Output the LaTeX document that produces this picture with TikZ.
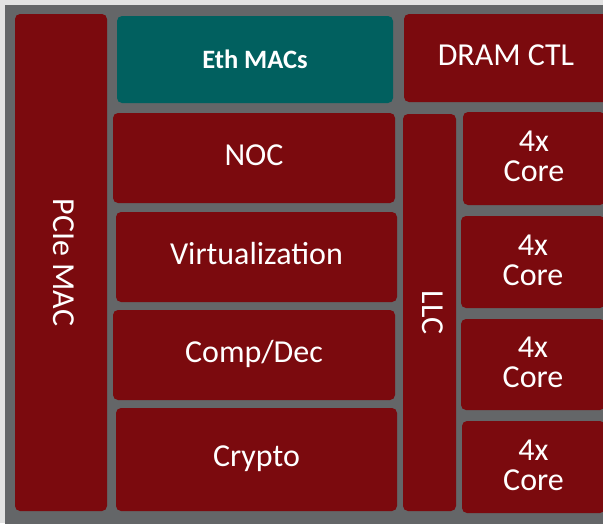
\documentclass[tikz,border=0pt]{standalone}
\usepackage{fontspec}
\setmainfont{Carlito}
\definecolor{dieGray}{HTML}{646668}
\definecolor{edgeGray}{HTML}{E2E2E2}
\definecolor{blockRed}{HTML}{7B0A0E}
\definecolor{blockTeal}{HTML}{01605F}
\tikzset{
  blk/.style={fill=blockRed, draw=none, rounded corners=5pt, inner sep=0pt,
              text=white, font=\fontsize{32}{30}\selectfont},
  % single-line labels: cap height of a 32pt label, caps sit slightly above centre
  one/.style={text height=20.6pt, text depth=6pt},
  lbl/.style={text=white, inner sep=0pt, align=center,
              font=\fontsize{32}{30}\selectfont}
}
\begin{document}
\begin{tikzpicture}[x=1pt,y=-1pt]
\useasboundingbox (0,0) rectangle (603,523);
\begin{scope}
\clip (0,0) rectangle (603,523);
% die outline
\fill[edgeGray] (0,0) rectangle (603,523);
\fill[dieGray] (4.5,4.5) rectangle (610,530);

% left column
\node[blk, one, rotate=-90, minimum width=497, minimum height=92] (pcie) at (61,262.5) {PCIe MAC};

% top row
\node[blk, fill=blockTeal, minimum width=276, minimum height=87,
      font=\bfseries\fontsize{26.5}{30}\selectfont,
      text height=17pt, text depth=0pt] (eth) at (255,59.5) {Eth MACs};
\node[blk, one, minimum width=204, minimum height=88] (dram) at (506,58) {DRAM CTL};

% accelerator stack
\node[blk, one, minimum width=282, minimum height=90] (noc) at (254,158) {NOC};
\node[blk, one, minimum width=281, minimum height=90] (virt) at (256.5,257) {Virtualization};
\node[blk, one, minimum width=282, minimum height=90] (comp) at (254,355) {Comp/Dec};
\node[blk, one, minimum width=281, minimum height=103] (crypto) at (256.5,459.5) {Crypto};

% last level cache
\node[blk, one, rotate=-90, minimum width=397, minimum height=53] (llc) at (429.5,312.5) {LLC};

% core clusters
\node[blk, minimum width=142, minimum height=93] (core1) at (534,158.5) {};
\node[blk, minimum width=144, minimum height=92] (core2) at (533,262) {};
\node[blk, minimum width=144, minimum height=91] (core3) at (533,364.5) {};
\node[blk, minimum width=143, minimum height=92] (core4) at (533.5,467) {};
\foreach \c in {core1,core2,core3,core4}
  \node[lbl] (\c lbl) at ([yshift=2pt]\c.center) {4x\\Core};
\end{scope}
\end{tikzpicture}
\end{document}
